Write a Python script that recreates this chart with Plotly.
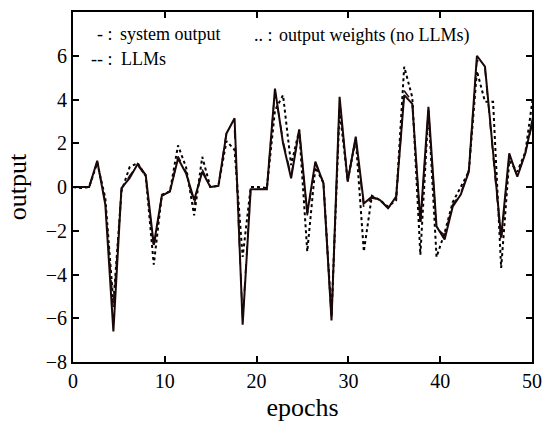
import plotly.graph_objects as go

epochs = [0.0, 0.88, 1.76, 2.64, 3.52, 4.4, 5.28, 6.16, 7.04, 7.92,
          8.8, 9.68, 10.56, 11.44, 12.32, 13.2, 14.08, 14.96, 15.84, 16.72,
          17.6, 18.48, 19.36, 20.24, 21.12, 22.0, 22.88, 23.76, 24.64, 25.52,
          26.4, 27.28, 28.16, 29.04, 29.92, 30.8, 31.68, 32.56, 33.44, 34.32,
          35.2, 36.08, 36.96, 37.84, 38.72, 39.6, 40.48, 41.36, 42.24, 43.12,
          44.0, 44.88, 45.76, 46.64, 47.52, 48.4, 49.28, 50.16]

system_output = [0, 0, 0, 1.2, -0.8, -6.6, -0.05, 0.4, 1.05, 0.55,
                 -2.65, -0.4, -0.2, 1.3, 0.62, -0.6, 0.7, 0.0, 0.05, 2.45,
                 3.14, -6.3, -0.1, -0.1, -0.1, 4.5, 2.0, 0.4, 2.63, -1.2,
                 1.16, 0.17, -6.1, 4.12, 0.24, 2.3, -0.75, -0.44, -0.6, -0.97,
                 -0.44, 4.2, 3.8, -1.6, 3.67, -1.8, -2.4, -0.9, -0.35, 0.7,
                 6.0, 5.5, 1.6, -2.3, 1.54, 0.47, 1.54, 3.3]

llms = [0, 0, 0, 1.15, -0.7, -5.6, -0.1, 0.5, 1.0, 0.5,
        -2.8, -0.4, -0.2, 1.4, 0.7, -0.8, 0.8, 0.0, 0.05, 2.5,
        2.6, -6.0, -0.1, -0.1, -0.1, 4.4, 2.1, 0.5, 2.6, -1.3,
        1.1, 0.2, -6.0, 3.9, 0.3, 2.2, -0.95, -0.5, -0.6, -0.95,
        -0.6, 4.4, 3.9, -1.8, 3.5, -1.9, -2.2, -0.8, -0.3, 0.8,
        5.8, 5.4, 1.5, -2.5, 1.4, 0.5, 1.6, 3.1]

no_llms = [0, -0.05, 0, 1.1, -0.5, -5.3, -0.2, 0.9, 1.1, 0.5,
           -3.55, -0.35, -0.2, 1.9, 0.9, -1.3, 1.38, 0.0, 0.05, 2.1,
           1.7, -3.2, 0.0, 0.0, -0.05, 3.5, 4.2, 1.0, 2.6, -2.95,
           0.9, 0.2, -5.9, 3.5, 0.3, 2.2, -2.95, -0.4, -0.6, -0.9,
           -0.6, 5.5, 4.1, -3.1, 3.5, -3.2, -2.1, -0.7, 0.0, 0.7,
           5.3, 3.9, 3.9, -3.7, 1.2, 0.7, 1.6, 4.3]

x_ticks = [0, 10, 20, 30, 40, 50]
y_ticks = [-8, -6, -4, -2, 0, 2, 4, 6]

FONT = "Liberation Serif, Times New Roman, serif"

L, R, T, B = 73, 10, 12, 70
W, H = 542, 432
PW, PH = W - L - R, H - T - B

fig = go.Figure()
fig.add_trace(go.Scatter(x=epochs, y=no_llms, mode="lines", name="output weights (no LLMs)",
                         line=dict(color="black", width=2, dash="dot")))
fig.add_trace(go.Scatter(x=epochs, y=llms, mode="lines", name="LLMs",
                         line=dict(color="#2a1010", width=1.6, dash="dash")))
fig.add_trace(go.Scatter(x=epochs, y=system_output, mode="lines", name="system output",
                         line=dict(color="#1a0808", width=2)))

axis_common = dict(showgrid=False, zeroline=False, showline=True, linecolor="black",
                   linewidth=2, mirror="allticks", ticks="inside", ticklen=6,
                   tickwidth=1.5, tickcolor="black", automargin=False,
                   tickfont=dict(family=FONT, size=20, color="black"))

fig.update_xaxes(range=[0, 50], tickvals=x_ticks,
                 title=dict(text="epochs", font=dict(family=FONT, size=26, color="black"), standoff=7),
                 **axis_common)
fig.update_yaxes(range=[-8, 8], tickvals=y_ticks,
                 title=dict(text="output", font=dict(family=FONT, size=26, color="black"), standoff=12),
                 **axis_common)


def px_x(px):
    return (px - L) / PW


def px_y(py):
    return (H - B - py) / PH


ann_font = dict(family=FONT, size=18, color="black")
legend_items = [
    ("- :", 95, 34, "system output", 118),
    ("-- :", 89, 59, "LLMs", 119),
    (".. :", 252, 35, "output weights (no LLMs)", 277),
]
for mark, mx, my, txt, tx in legend_items:
    fig.add_annotation(x=px_x(mx), y=px_y(my), xref="paper", yref="paper", text=mark,
                       showarrow=False, xanchor="left", yanchor="middle", font=ann_font)
    fig.add_annotation(x=px_x(tx), y=px_y(my), xref="paper", yref="paper", text=txt,
                       showarrow=False, xanchor="left", yanchor="middle", font=ann_font)

fig.update_layout(width=W, height=H, margin=dict(l=L, r=R, t=T, b=B),
                  plot_bgcolor="white", paper_bgcolor="white", showlegend=False,
                  font=dict(family=FONT, color="black"))

fig.write_html("out.html", config={"displayModeBar": False},
               post_script="document.body.style.margin='0';document.body.style.overflow='hidden';")
